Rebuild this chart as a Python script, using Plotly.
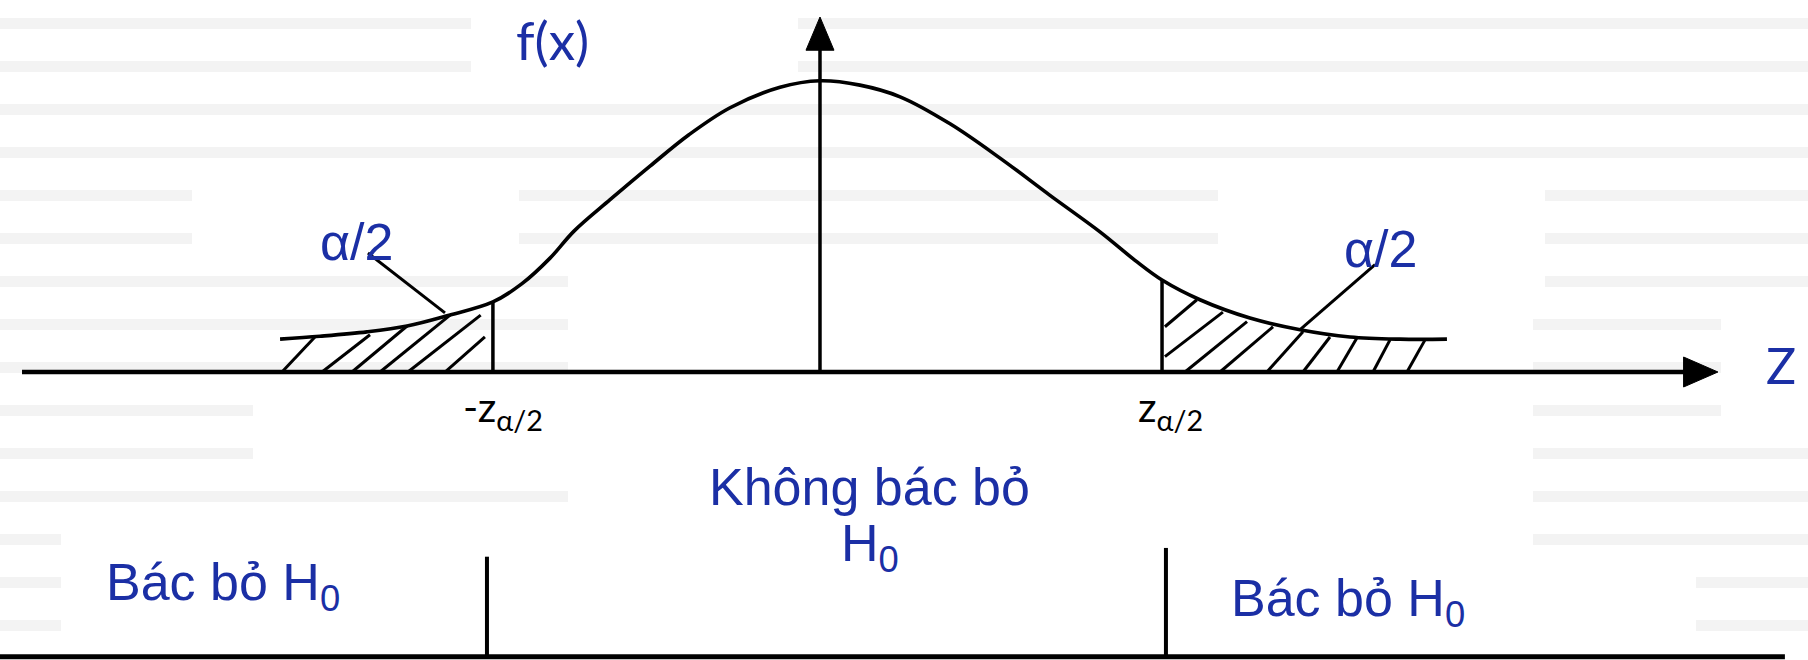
import plotly.graph_objects as go

# ---------------- data (z units on x, density units on y) ----------------
curve_z = [-3.176, -2.941, -2.665, -2.429, -2.194, -1.924, -1.753, -1.588, -1.447, -1.235,
           -1.000, -0.771, -0.529, -0.235, 0.000, 0.235, 0.471, 0.765, 1.059, 1.353,
           1.647, 1.853, 2.012, 2.235, 2.529, 2.824, 3.118, 3.412, 3.688]
curve_f = [0.045, 0.049, 0.055, 0.063, 0.077, 0.096, 0.121, 0.156, 0.193, 0.236,
           0.282, 0.325, 0.362, 0.390, 0.399, 0.393, 0.377, 0.340, 0.293, 0.242,
           0.192, 0.153, 0.126, 0.099, 0.074, 0.058, 0.048, 0.045, 0.045]

crit_z = [-1.924, 2.012]          # -z_{a/2}, z_{a/2}
crit_f = [0.096, 0.126]           # curve height at the critical values

hatch_z0 = [-3.165, -2.929, -2.753, -2.588, -2.424, -2.206,
            2.029, 2.029, 2.147, 2.353, 2.629, 2.841, 3.041, 3.253, 3.453]
hatch_f0 = [0, 0, 0, 0, 0, 0,
            0.062, 0.021, 0, 0, 0, 0, 0, 0, 0]
hatch_z1 = [-2.971, -2.647, -2.429, -2.176, -1.996, -1.971,
            2.217, 2.370, 2.512, 2.665, 2.841, 3.000, 3.159, 3.353, 3.559]
hatch_f1 = [0.048, 0.051, 0.063, 0.078, 0.078, 0.048,
            0.099, 0.082, 0.069, 0.062, 0.055, 0.048, 0.047, 0.044, 0.044]

leader_z0 = [-2.659, 3.265]
leader_f0 = [0.163, 0.147]
leader_z1 = [-2.206, 2.824]
leader_f1 = [0.081, 0.058]

axis_x_start, axis_x_end, axis_x_tip = -4.694, 5.100, 5.282
axis_y_end, axis_y_tip = 0.4438, 0.4863

divider_z = [-1.959, 2.035]
divider_top = [-0.253, -0.241]
bottom_f = -0.390
bottom_z = [-4.83, 5.676]

X_RANGE = [-4.8235, 5.8118]
Y_RANGE = [-0.3945, 0.5096]

BLUE = "#1b2fa5"
W, H = 1808, 660

fig = go.Figure()

def seg_trace(xs, ys, width, color="black"):
    fig.add_trace(go.Scatter(x=xs, y=ys, mode="lines",
                             line=dict(color=color, width=width),
                             hoverinfo="skip", showlegend=False))

# horizontal axis + arrow
seg_trace([axis_x_start, axis_x_end], [0, 0], 4.5)
hh = 15 * (Y_RANGE[1] - Y_RANGE[0]) / H
fig.add_trace(go.Scatter(x=[axis_x_end - 0.02, axis_x_tip, axis_x_end - 0.02, axis_x_end - 0.02],
                         y=[hh, 0, -hh, hh], mode="lines", fill="toself",
                         fillcolor="black", line=dict(color="black", width=1),
                         hoverinfo="skip", showlegend=False))
# vertical axis + arrow
seg_trace([0, 0], [0, axis_y_end], 3.5)
hw = 14 * (X_RANGE[1] - X_RANGE[0]) / W
fig.add_trace(go.Scatter(x=[-hw, 0, hw, -hw], y=[axis_y_end - 0.003, axis_y_tip, axis_y_end - 0.003, axis_y_end - 0.003],
                         mode="lines", fill="toself", fillcolor="black",
                         line=dict(color="black", width=1),
                         hoverinfo="skip", showlegend=False))

# density curve
fig.add_trace(go.Scatter(x=curve_z, y=curve_f, mode="lines",
                         line=dict(color="black", width=3.6, shape="spline", smoothing=1.0),
                         hoverinfo="skip", showlegend=False))

# critical lines
for z, f in zip(crit_z, crit_f):
    seg_trace([z, z], [0, f], 3.5)

# hatching
hx, hy = [], []
for a, b, c, d in zip(hatch_z0, hatch_f0, hatch_z1, hatch_f1):
    hx += [a, c, None]
    hy += [b, d, None]
seg_trace(hx, hy, 3)

# leader lines
lx, ly = [], []
for a, b, c, d in zip(leader_z0, leader_f0, leader_z1, leader_f1):
    lx += [a, c, None]
    ly += [b, d, None]
seg_trace(lx, ly, 3)

# bottom decision line + dividers
seg_trace(bottom_z, [bottom_f, bottom_f], 5)
for z, t in zip(divider_z, divider_top):
    seg_trace([z, z], [bottom_f, t], 4)

# ---------------- labels ----------------
ann = []
def label(x, y, text, size, color, family, xanchor="center", yanchor="middle"):
    ann.append(dict(x=x, y=y, xref="x", yref="y", text=text, showarrow=False,
                    xanchor=xanchor, yanchor=yanchor,
                    font=dict(size=size, color=color, family=family)))

ARIAL = "Liberation Sans, Arial, sans-serif"
CAL = "Lato, Open Sans, sans-serif"
label(-1.575, 0.456, "f(x)", 53, BLUE, CAL)
label(5.653, 0.010, "Z", 50, BLUE, CAL)
label(-2.724, 0.178, "α/2", 52, BLUE, ARIAL)
label(3.300, 0.168, "α/2", 52, BLUE, ARIAL)
label(-2.112, -0.052, "-z<sub>α/2</sub>", 41, "black", CAL, xanchor="left")
label(1.860, -0.052, "z<sub>α/2</sub>", 41, "black", CAL, xanchor="left")
label(0.294, -0.158, "Không bác bỏ", 52, BLUE, ARIAL)
label(0.294, -0.240, "H<sub>0</sub>", 52, BLUE, ARIAL)
label(-4.212, -0.293, "Bác bỏ H<sub>0</sub>", 52, BLUE, ARIAL, xanchor="left")
label(2.406, -0.315, "Bác bỏ H<sub>0</sub>", 52, BLUE, ARIAL, xanchor="left")

# ---------------- background stripes (slide texture) ----------------
stripes = [
    (18, [(0, 471), (798, 1808)]),
    (61, [(0, 471), (798, 1808)]),
    (104, [(0, 1808)]),
    (147, [(0, 1808)]),
    (190, [(0, 192), (519, 1218), (1545, 1808)]),
    (233, [(0, 192), (519, 1218), (1545, 1808)]),
    (276, [(0, 568), (1545, 1808)]),
    (319, [(0, 568), (1533, 1721)]),
    (362, [(0, 568), (1533, 1721)]),
    (405, [(0, 253), (1533, 1721)]),
    (448, [(0, 253), (1533, 1808)]),
    (491, [(0, 568), (1533, 1808)]),
    (534, [(0, 61), (1533, 1808)]),
    (577, [(0, 61), (1696, 1808)]),
    (620, [(0, 61), (1696, 1808)]),
]
shapes = []
for top, spans in stripes:
    for x0, x1 in spans:
        shapes.append(dict(type="rect", xref="paper", yref="paper",
                           x0=x0 / W, x1=x1 / W, y0=1 - (top + 11) / H, y1=1 - top / H,
                           fillcolor="#f3f3f3", line=dict(width=0), layer="below"))

fig.update_layout(
    width=W, height=H, autosize=False,
    margin=dict(l=0, r=0, t=0, b=0, pad=0),
    paper_bgcolor="white", plot_bgcolor="white",
    xaxis=dict(range=X_RANGE, visible=False, fixedrange=True),
    yaxis=dict(range=Y_RANGE, visible=False, fixedrange=True),
    annotations=ann, shapes=shapes, showlegend=False,
)

fig.write_html("out.html", config={"displayModeBar": False},
               post_script="document.body.style.margin='0px';document.body.style.overflow='hidden';")
